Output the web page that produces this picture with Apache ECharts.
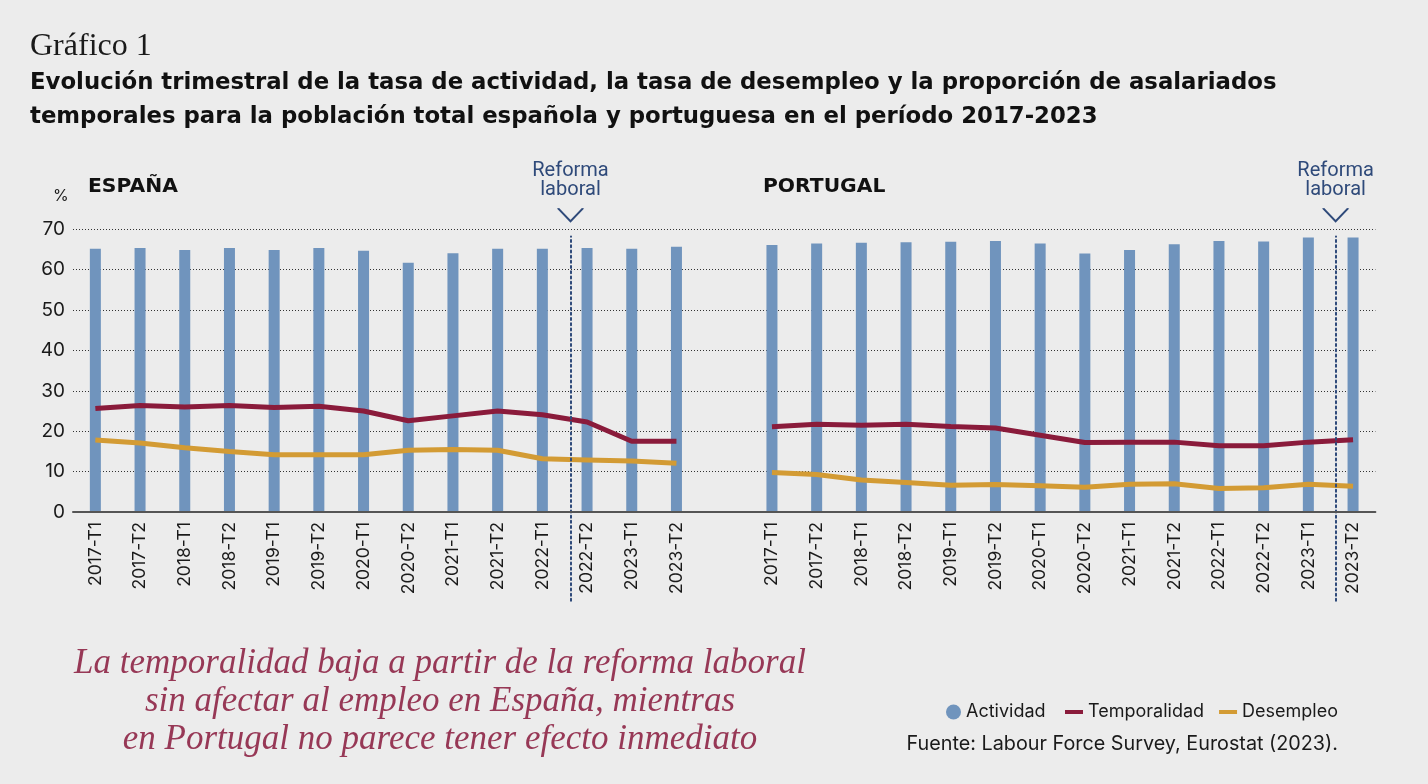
<!DOCTYPE html>
<html>
<head>
<meta charset="utf-8">
<script src="https://cdn.jsdelivr.net/npm/echarts@6/dist/echarts.min.js"></script>
<style>
html,body{margin:0;padding:0;background:#ececec;}
#chart{width:1428px;height:784px;}
</style>
</head>
<body>
<div id="chart"></div>
<script>
const categories = ['2017-T1','2017-T2','2018-T1','2018-T2','2019-T1','2019-T2','2020-T1','2020-T2','2021-T1','2021-T2','2022-T1','2022-T2','2023-T1','2023-T2'];
const yTicks = [0, 70, 10];
const spainActividad = [65.2, 65.4, 64.9, 65.4, 64.9, 65.4, 64.7, 61.7, 64.1, 65.2, 65.2, 65.4, 65.2, 65.7];
const spainTemporalidad = [25.6, 26.4, 26.0, 26.4, 25.9, 26.2, 25.0, 22.6, 23.8, 25.0, 24.1, 22.3, 17.5, 17.5];
const spainDesempleo = [17.8, 17.1, 15.9, 15.0, 14.2, 14.2, 14.2, 15.3, 15.5, 15.3, 13.2, 12.9, 12.6, 12.1];
const portugalActividad = [66.1, 66.5, 66.7, 66.8, 66.9, 67.1, 66.5, 64.0, 64.9, 66.3, 67.1, 67.0, 68.0, 68.0];
const portugalTemporalidad = [21.1, 21.7, 21.5, 21.7, 21.2, 20.8, 19.0, 17.2, 17.3, 17.3, 16.4, 16.4, 17.3, 17.9];
const portugalDesempleo = [9.8, 9.3, 7.9, 7.3, 6.6, 6.8, 6.5, 6.1, 6.9, 7.0, 5.8, 6.0, 6.9, 6.4];
// reform position, expressed as category index (fractional)
const reformSpain = 10.63;
const reformPortugal = 12.61;

const C_BAR = '#7094bd', C_TEMP = '#8a1b3b', C_DES = '#d39b34', C_NAVY = '#2f4a7a';
const SANS = 'Inter, "Noto Sans", sans-serif';
const BOLD = '"DejaVu Sans", sans-serif';

const chart = echarts.init(document.getElementById('chart'), null, {renderer: 'canvas'});

const gridTop = 229.3, gridBottomPx = 512;
const pxPerUnit = (gridBottomPx - gridTop) / 70;
const annMin = -22.5, annMax = 87.5;

function catX(idx) {
  return {
    type: 'category', gridIndex: idx, data: categories,
    axisLine: {show: false}, axisTick: {show: false},
    axisLabel: {interval: 0, rotate: 90, margin: 10, fontFamily: SANS, fontSize: 17.5, color: '#1a1a1a'},
    splitLine: {show: false}
  };
}
function hiddenY(idx) {
  return {type: 'value', gridIndex: idx, min: yTicks[0], max: yTicks[1], interval: yTicks[2], show: false};
}
function annX(idx) {
  return {type: 'value', gridIndex: idx, min: -0.5, max: 13.5, show: false};
}
function annY(idx) {
  return {type: 'value', gridIndex: idx, min: annMin, max: annMax, show: false};
}
function annSeries(axisIdx, pos) {
  return {
    type: 'line', xAxisIndex: axisIdx, yAxisIndex: axisIdx, data: [], silent: true,
    markLine: {
      silent: true, symbol: ['none', 'none'], animation: false,
      lineStyle: {color: C_NAVY, width: 2, type: [2, 3.2], cap: 'round'},
      label: {show: false},
      data: [[{coord: [pos, -22]}, {coord: [pos, 68.2]}]]
    },
    markPoint: {
      silent: true, animation: false,
      symbol: 'path://M0,0 L12,13 L24,0', symbolSize: [25, 13],
      itemStyle: {color: 'transparent', borderColor: C_NAVY, borderWidth: 1.8},
      label: {show: true, position: 'top', distance: 8, formatter: 'Reforma\nlaboral',
        color: C_NAVY, fontFamily: 'Roboto, sans-serif', fontSize: 20, lineHeight: 19},
      data: [{coord: [pos, 73.6]}]
    }
  };
}
function gridFor(left, right) {
  return {left: left, right: right, top: gridTop, bottom: 784 - gridBottomPx};
}

const annTop = gridBottomPx - annMax * pxPerUnit;
const annBottom = 784 - (gridBottomPx - annMin * pxPerUnit);

const option = {
  backgroundColor: '#ececec',
  animation: false,
  grid: [
    gridFor(73, 729.2),
    gridFor(749.6, 52.6),
    gridFor(73, 52.6),
    {left: 73, right: 729.2, top: annTop, bottom: annBottom},
    {left: 749.6, right: 52.6, top: annTop, bottom: annBottom}
  ],
  xAxis: [
    catX(0), catX(1),
    {type: 'value', gridIndex: 2, min: 0, max: 1, z: 5,
      axisLine: {show: true, lineStyle: {color: '#555', width: 2}},
      axisTick: {show: false}, axisLabel: {show: false}, splitLine: {show: false}},
    annX(3), annX(4)
  ],
  yAxis: [
    hiddenY(0), hiddenY(1),
    {type: 'value', gridIndex: 2, min: yTicks[0], max: yTicks[1], interval: yTicks[2],
      axisLine: {show: false}, axisTick: {show: false},
      axisLabel: {margin: 8, fontFamily: SANS, fontSize: 19, color: '#1a1a1a'},
      splitLine: {show: true, lineStyle: {color: '#333', width: 1, type: [1, 2]}}},
    annY(3), annY(4)
  ],
  legend: [
    {data: [{name: 'Actividad', icon: 'circle'}], left: 941, top: 698, itemWidth: 15, itemHeight: 15,
      itemGap: 16, itemTextGap: 6, selectedMode: false,
      textStyle: {fontFamily: SANS, fontSize: 18, color: '#1a1a1a'}},
    {data: [{name: 'Temporalidad', icon: 'rect'}, {name: 'Desempleo', icon: 'rect'}], left: 1060, top: 698,
      itemWidth: 18, itemHeight: 4, itemGap: 15, itemTextGap: 6, selectedMode: false,
      textStyle: {fontFamily: SANS, fontSize: 18, color: '#1a1a1a'}}
  ],
  graphic: [
    {type: 'text', x: 30, y: 31, style: {text: 'Gráfico 1', fill: '#1a1a1a',
      font: 'normal 32px "Liberation Serif", "DejaVu Serif", serif'}},
    {type: 'text', x: 30, y: 66, style: {text: 'Evolución trimestral de la tasa de actividad, la tasa de desempleo y la proporción de asalariados\ntemporales para la población total española y portuguesa en el período 2017-2023',
      fill: '#111', font: 'bold 22.8px ' + BOLD, lineHeight: 34}},
    {type: 'text', x: 88, y: 177, style: {text: 'ESPAÑA', fill: '#111', font: 'bold 20.3px ' + BOLD}},
    {type: 'text', x: 763, y: 177, style: {text: 'PORTUGAL', fill: '#111', font: 'bold 20.3px ' + BOLD}},
    {type: 'text', x: 53, y: 188, style: {text: '%', fill: '#1a1a1a', font: 'normal 16px ' + SANS}},
    {type: 'text', x: 440, y: 645, style: {text: 'La temporalidad baja a partir de la reforma laboral\nsin afectar al empleo en España, mientras\nen Portugal no parece tener efecto inmediato',
      fill: '#973856', align: 'center', lineHeight: 38,
      font: 'italic 35px "Liberation Serif", "DejaVu Serif", serif'}},
    {type: 'text', x: 1338, y: 734, style: {text: 'Fuente: Labour Force Survey, Eurostat (2023).', fill: '#1a1a1a',
      align: 'right', font: 'normal 19.8px ' + SANS}}
  ],
  series: [
    {name: 'Actividad', type: 'bar', xAxisIndex: 0, yAxisIndex: 0, barWidth: 11, data: spainActividad,
      itemStyle: {color: C_BAR}},
    {name: 'Temporalidad', type: 'line', xAxisIndex: 0, yAxisIndex: 0, data: spainTemporalidad,
      symbol: 'none', lineStyle: {color: C_TEMP, width: 5}, itemStyle: {color: C_TEMP}, z: 4},
    {name: 'Desempleo', type: 'line', xAxisIndex: 0, yAxisIndex: 0, data: spainDesempleo,
      symbol: 'none', lineStyle: {color: C_DES, width: 5}, itemStyle: {color: C_DES}, z: 3},
    {name: 'Actividad', type: 'bar', xAxisIndex: 1, yAxisIndex: 1, barWidth: 11, data: portugalActividad,
      itemStyle: {color: C_BAR}},
    {name: 'Temporalidad', type: 'line', xAxisIndex: 1, yAxisIndex: 1, data: portugalTemporalidad,
      symbol: 'none', lineStyle: {color: C_TEMP, width: 5}, itemStyle: {color: C_TEMP}, z: 4},
    {name: 'Desempleo', type: 'line', xAxisIndex: 1, yAxisIndex: 1, data: portugalDesempleo,
      symbol: 'none', lineStyle: {color: C_DES, width: 5}, itemStyle: {color: C_DES}, z: 3},
    annSeries(3, reformSpain),
    annSeries(4, reformPortugal)
  ]
};
chart.setOption(option);
</script>
</body>
</html>
